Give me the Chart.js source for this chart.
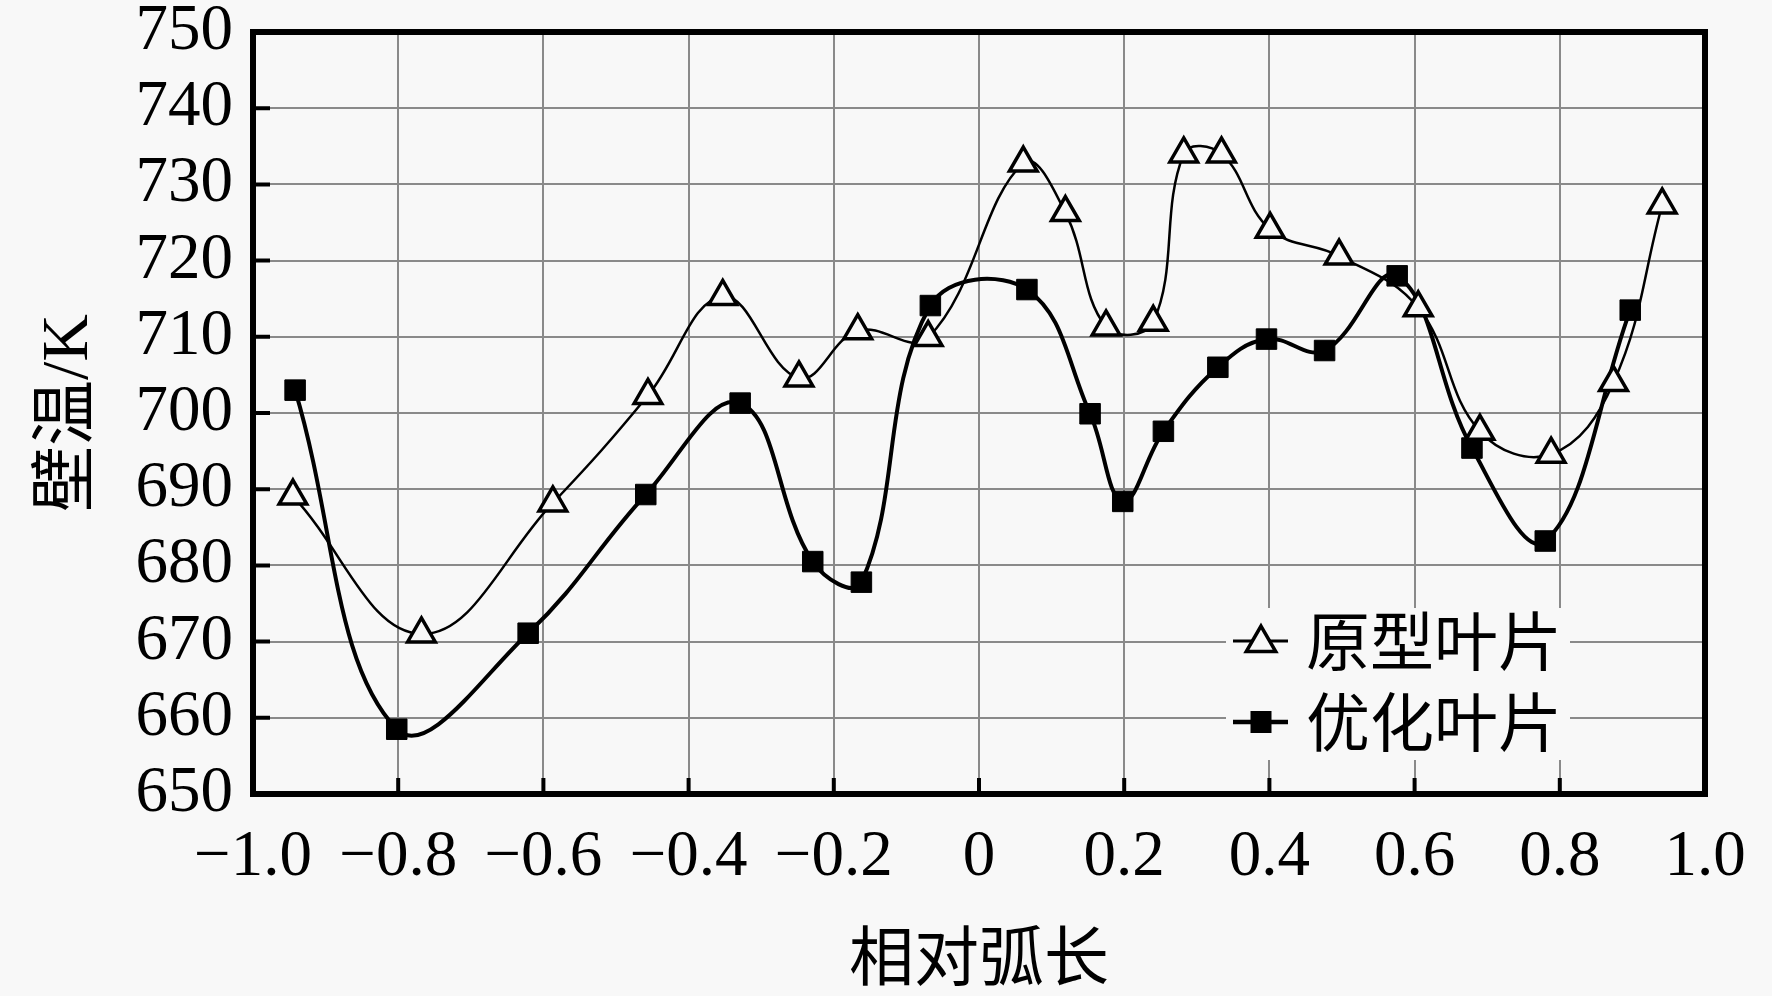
<!DOCTYPE html>
<html><head><meta charset="utf-8">
<script src="https://cdn.jsdelivr.net/npm/chart.js@4/dist/chart.umd.min.js"></script>
<style>html,body{margin:0;padding:0;background:#f8f8f8;}canvas{display:block;}</style>
</head><body>
<canvas id="c" width="1772" height="996"></canvas>
<script>
// ---- data ----
const seriesNames = ['原型叶片', '优化叶片'];
const protoX = [-0.945, -0.768, -0.587, -0.456, -0.353, -0.248, -0.167, -0.070, 0.061, 0.119, 0.175, 0.240, 0.282, 0.334, 0.401, 0.496, 0.605, 0.690, 0.788, 0.874, 0.941];
const protoY = [689.1, 671.0, 688.2, 702.3, 715.3, 704.6, 710.8, 709.9, 732.8, 726.3, 711.3, 711.9, 734.0, 734.0, 724.1, 720.6, 713.8, 697.6, 694.6, 704.0, 727.3];
const optX = [-0.942, -0.802, -0.621, -0.459, -0.329, -0.229, -0.162, -0.067, 0.066, 0.153, 0.198, 0.254, 0.329, 0.396, 0.476, 0.576, 0.679, 0.780, 0.897];
const optY = [703.0, 658.5, 671.1, 689.3, 701.3, 680.5, 677.8, 714.1, 716.2, 699.9, 688.4, 697.6, 706.0, 709.7, 708.2, 718.0, 695.4, 683.2, 713.5];
const xTickValues = [-1, -0.8, -0.6, -0.4, -0.2, 0, 0.2, 0.4, 0.6, 0.8, 1];
const xTickLabels = ['\u22121.0', '\u22120.8', '\u22120.6', '\u22120.4', '\u22120.2', '0', '0.2', '0.4', '0.6', '0.8', '1.0'];
const yTickValues = [650, 660, 670, 680, 690, 700, 710, 720, 730, 740, 750];
const yTickLabels = ['650', '660', '670', '680', '690', '700', '710', '720', '730', '740', '750'];
const xTitle = '相对弧长';
const yTitle = '壁温/K';

const BG = '#f8f8f8';
const serif = "'Liberation Serif', 'Times New Roman', serif";
const cjk = "'Noto Sans CJK SC', sans-serif";

const toPts = (xs, ys) => xs.map((x, i) => ({ x: x, y: ys[i] }));

const decor = {
  id: 'decor',
  beforeDraw(chart) {
    const ctx = chart.ctx;
    ctx.save();
    ctx.fillStyle = BG;
    ctx.fillRect(0, 0, chart.width, chart.height);
    ctx.restore();
  },
  afterDatasetsDraw(chart) {
    const { ctx, chartArea: a, scales } = chart;
    const xs = scales.x, ys = scales.y;
    ctx.save();
    ctx.strokeStyle = '#000';
    ctx.lineCap = 'butt';
    ctx.lineWidth = 4;
    ctx.beginPath();
    yTickValues.slice(1, -1).forEach(v => {
      const py = ys.getPixelForValue(v);
      ctx.moveTo(a.left, py); ctx.lineTo(a.left + 17, py);
    });
    xTickValues.slice(1, -1).forEach(v => {
      const px = xs.getPixelForValue(v);
      ctx.moveTo(px, a.bottom); ctx.lineTo(px, a.bottom - 16);
    });
    ctx.stroke();
    ctx.lineWidth = 6;
    ctx.strokeRect(a.left, a.top, a.right - a.left, a.bottom - a.top);

    // legend
    const bx0 = a.right - 479, bx1 = a.right - 135, by0 = a.bottom - 186, by1 = a.bottom - 34;
    ctx.fillStyle = BG;
    ctx.fillRect(bx0, by0, bx1 - bx0, by1 - by0);
    const rows = [a.bottom - 153, a.bottom - 72];
    const lx0 = a.right - 472, lx1 = a.right - 417, mx = a.right - 444, tx = a.right - 399;
    rows.forEach((ry, i) => {
      ctx.strokeStyle = '#000';
      ctx.lineWidth = i === 0 ? 3 : 4.5;
      ctx.beginPath(); ctx.moveTo(lx0, ry); ctx.lineTo(lx1, ry); ctx.stroke();
      if (i === 0) {
        const r = 17;
        ctx.beginPath();
        for (let k = 0; k < 3; k++) {
          const ang = k * 2 * Math.PI / 3;
          const px = mx + Math.sin(ang) * r, py = ry + 2 - Math.cos(ang) * r;
          if (k === 0) ctx.moveTo(px, py); else ctx.lineTo(px, py);
        }
        ctx.closePath();
        ctx.fillStyle = BG; ctx.fill();
        ctx.lineWidth = 3.5; ctx.stroke();
      } else {
        ctx.fillStyle = '#000';
        ctx.fillRect(mx - 10.5, ry - 11, 21, 22);
      }
      ctx.fillStyle = '#000';
      ctx.font = '64px ' + cjk;
      ctx.textAlign = 'left';
      ctx.textBaseline = 'middle';
      ctx.fillText(seriesNames[i], tx, ry);
    });
    ctx.restore();
  }
};

new Chart(document.getElementById('c'), {
  type: 'line',
  data: {
    datasets: [
      {
        label: seriesNames[0],
        data: toPts(protoX, protoY),
        borderColor: '#000',
        borderWidth: 2.5,
        tension: 0.4,
        pointStyle: 'triangle',
        pointRadius: 16,
        pointBorderWidth: 3.5,
        pointBorderColor: '#000',
        pointBackgroundColor: BG,
        fill: false
      },
      {
        label: seriesNames[1],
        data: toPts(optX, optY),
        borderColor: '#000',
        borderWidth: 4,
        tension: 0.4,
        pointStyle: 'rect',
        pointRadius: 14.5,
        pointBorderWidth: 1,
        pointBorderColor: '#000',
        pointBackgroundColor: '#000',
        fill: false
      }
    ]
  },
  options: {
    responsive: false,
    animation: false,
    devicePixelRatio: 1,
    layout: { padding: { top: 32, right: 67, left: 0, bottom: 0 } },
    plugins: { legend: { display: false }, tooltip: { enabled: false } },
    scales: {
      x: {
        type: 'linear', min: -1, max: 1,
        afterBuildTicks: s => { s.ticks = xTickValues.map(v => ({ value: v })); },
        afterFit: s => { s.height = 202; s.paddingLeft = 0; s.paddingRight = 0; },
        ticks: {
          callback: (v, i) => xTickLabels[i],
          font: { family: serif, size: 65 }, color: '#000', padding: 25, maxRotation: 0, autoSkip: false
        },
        grid: { color: '#8a8a8a', lineWidth: 2, drawTicks: false },
        border: { display: false },
        title: { display: true, text: xTitle, font: { family: cjk, size: 65 }, color: '#000', padding: { top: 0, bottom: 2 } }
      },
      y: {
        type: 'linear', min: 650, max: 750,
        afterBuildTicks: s => { s.ticks = yTickValues.map(v => ({ value: v })); },
        afterFit: s => { s.width = 253; s.paddingTop = 0; s.paddingBottom = 0; },
        ticks: {
          callback: (v, i) => yTickLabels[i],
          font: { family: serif, size: 65 }, color: '#000', padding: 20, autoSkip: false
        },
        grid: { color: '#8a8a8a', lineWidth: 2, drawTicks: false },
        border: { display: false },
        title: { display: true, text: yTitle, font: { family: serif + ", " + cjk, size: 66 }, color: '#000', padding: { top: 30, bottom: 0 } }
      }
    }
  },
  plugins: [decor]
});
</script>
</body></html>
